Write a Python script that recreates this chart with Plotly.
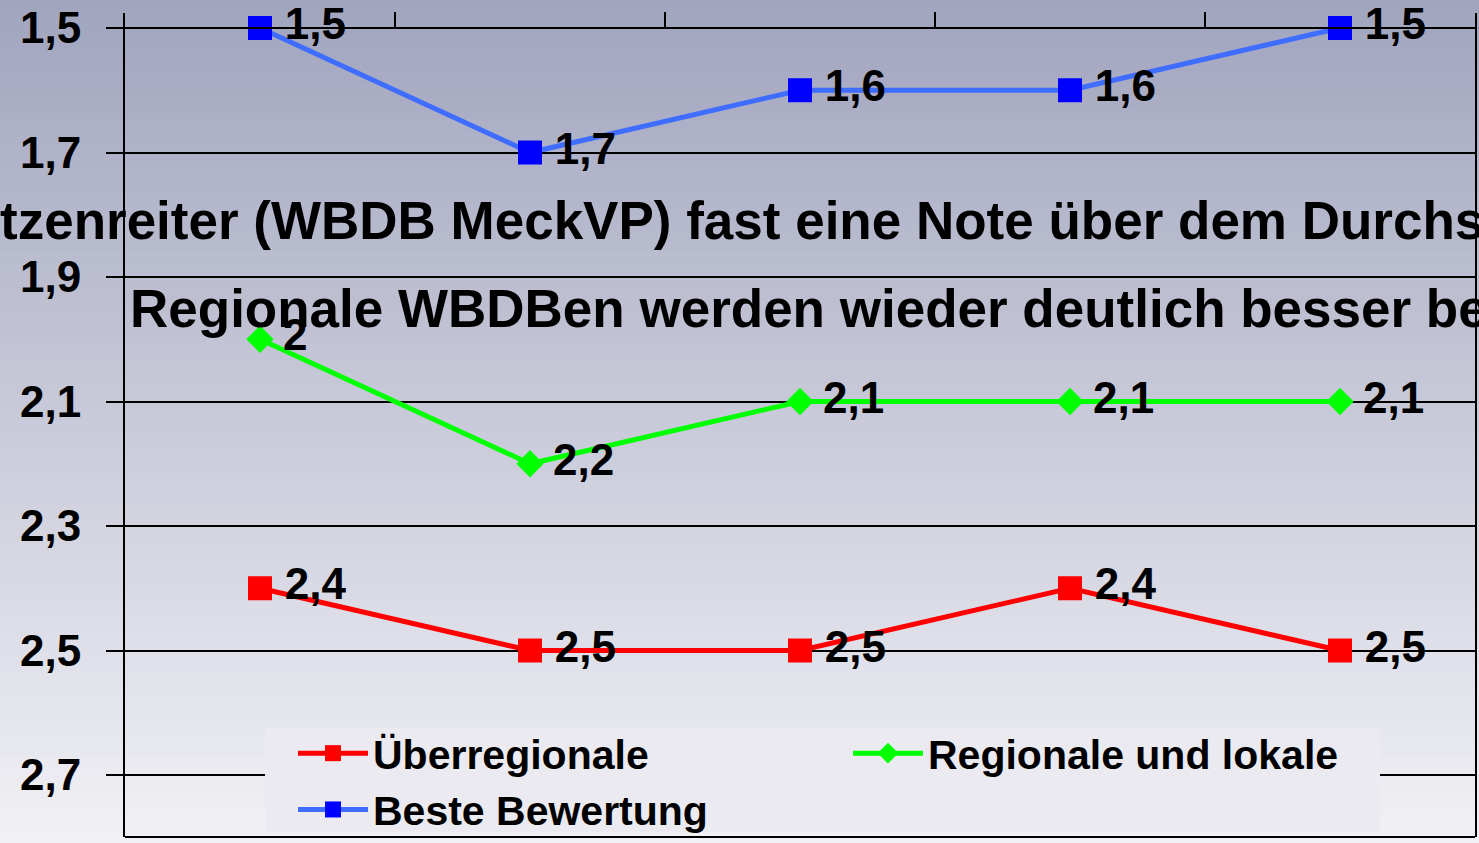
import plotly.graph_objects as go

# ---- data ----
categories = ["K1", "K2", "K3", "K4", "K5"]
ueberregionale = [2.4, 2.5, 2.5, 2.4, 2.5]
regionale_lokale = [2.0, 2.2, 2.1, 2.1, 2.1]
beste_bewertung = [1.5, 1.7, 1.6, 1.6, 1.5]
y_ticks = [1.5, 1.7, 1.9, 2.1, 2.3, 2.5, 2.7]
note_1 = "tzenreiter (WBDB MeckVP) fast eine Note über dem Durchschnitt"
note_2 = "Regionale WBDBen werden wieder deutlich besser bewertet"

W, H = 1479, 843
ML, MR, MT, MB = 125, 4, 13, 6
PW, PH = W - ML - MR, H - MT - MB

FONT = "Liberation Sans, Arial, sans-serif"


def py(p):
    """pixel row -> paper y"""
    return (H - MB - p) / PH


def px(p):
    return (p - ML) / PW


def label(v):
    s = ("%g" % v).replace(".", ",")
    return "\u2009" + s


fig = go.Figure()

series = [
    ("Überregionale", ueberregionale, "#FF0000", "#FF0000", "square", 24),
    ("Regionale und lokale", regionale_lokale, "#00FF00", "#00FF00", "diamond", 21),
    ("Beste Bewertung", beste_bewertung, "#3F6DFF", "#0000FF", "square", 24),
]
for name, vals, lc, mc, sym, ms in series:
    fig.add_trace(go.Scatter(
        x=categories, y=vals, name=name, mode="lines+markers+text",
        line=dict(color=lc, width=5),
        marker=dict(color=mc, symbol=sym, size=ms, line=dict(width=0)),
        text=[label(v) for v in vals], textposition="middle right",
        textfont=dict(family=FONT, size=44, color="black", weight="bold"),
        cliponaxis=False,
    ))

# background gradient (style only)
top_c = (161, 164, 190)
bot_c = (241, 241, 245)
N = 70
shapes = []
for i in range(N):
    p0 = H * i / N - 1
    p1 = H * (i + 1) / N + 1
    t = (i + 0.5) / N
    c = tuple(round(a + (b - a) * t) for a, b in zip(top_c, bot_c))
    shapes.append(dict(type="rect", xref="paper", yref="paper",
                       x0=px(-5), x1=px(W + 5), y0=py(p1), y1=py(p0),
                       fillcolor="rgb(%d,%d,%d)" % c, line=dict(width=0),
                       layer="below"))
# legend backdrop hiding the 2.7 gridline
shapes.append(dict(type="rect", xref="paper", yref="paper",
                   x0=px(265), x1=px(1380), y0=py(832), y1=py(728),
                   fillcolor="rgb(234,234,240)", line=dict(width=0),
                   layer="above"))
# bottom border of plot area
shapes.append(dict(type="line", xref="paper", yref="paper", x0=0, x1=1, y0=0, y1=0,
                   line=dict(color="black", width=2), layer="above"))

fig.update_layout(
    width=W, height=H,
    margin=dict(l=ML, r=MR, t=MT, b=MB, pad=0, autoexpand=False),
    paper_bgcolor="rgb(240,240,244)",
    plot_bgcolor="rgba(0,0,0,0)",
    separators=",.",
    font=dict(family=FONT, color="black", size=44, weight="bold"),
    showlegend=True,
    shapes=shapes,
    xaxis=dict(
        type="category", range=[-0.5, 4.5], anchor="free", position=py(28),
        side="top", showgrid=False, zeroline=False, showline=True,
        linecolor="black", linewidth=1.5,
        showticklabels=False, ticks="outside", ticklen=15, tickwidth=1.5,
        tickcolor="black", tickmode="array", tickvals=[0.5, 1.5, 2.5, 3.5],
    ),
    yaxis=dict(
        range=[2.7996, 1.4759], tickmode="array", tickvals=y_ticks,
        tickformat=".1f", showgrid=True, gridcolor="black", gridwidth=1.5,
        zeroline=False, showline=True, mirror=True, linecolor="black",
        linewidth=2, ticks="outside", ticklen=17, tickwidth=1.5,
        tickcolor="black", ticklabelstandoff=16,
        tickfont=dict(family=FONT, size=44, color="black", weight="bold"),
    ),
    legend=dict(
        orientation="h", x=px(293), xanchor="left", y=py(720), yanchor="top",
        bgcolor="rgba(0,0,0,0)", borderwidth=0,
        font=dict(family=FONT, size=41, color="black", weight="bold"),
        itemwidth=70, entrywidth=470, entrywidthmode="pixels",
        traceorder="normal", itemclick=False,
    ),
    annotations=[
        dict(text=note_1, xref="paper", yref="paper", x=px(-2), y=py(220),
             xanchor="left", yanchor="middle", showarrow=False,
             font=dict(family=FONT, size=53, color="black", weight="bold")),
        dict(text=note_2, xref="paper", yref="paper", x=px(128), y=py(309),
             xanchor="left", yanchor="middle", showarrow=False,
             font=dict(family=FONT, size=53, color="black", weight="bold")),
    ],
)

fig.write_html(
    "out.html",
    config={"displayModeBar": False},
    post_script="document.body.style.margin='0';document.body.style.overflow='hidden';",
)
